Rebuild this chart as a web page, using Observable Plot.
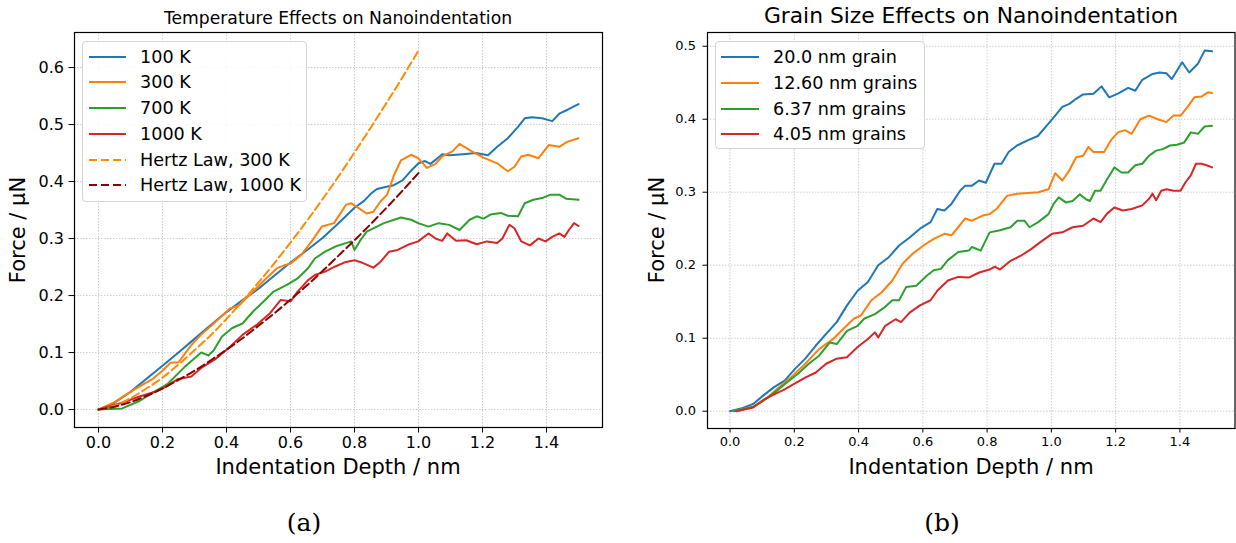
<!DOCTYPE html>
<html>
<head>
<meta charset="utf-8">
<script src="https://cdn.jsdelivr.net/npm/d3@7"></script>
<script src="https://cdn.jsdelivr.net/npm/@observablehq/plot@0.6"></script>
<style>
  html, body { margin: 0; padding: 0; background: #fff; }
  #root { position: relative; width: 1236px; height: 543px; font-family: "DejaVu Sans", sans-serif; color: #000; overflow: hidden; }
  .abs { position: absolute; white-space: nowrap; }
  .plotwrap { position: absolute; top: 0; }
  .legend { position: absolute; border: 1px solid #d4d4d4; border-radius: 4px; background: rgba(255,255,255,0.85); box-sizing: border-box; }
</style>
</head>
<body>
<div id="root"></div>
<script>
// ---------------- Data: (a) temperature effects ----------------
const xTicks = [0.0, 0.2, 0.4, 0.6, 0.8, 1.0, 1.2, 1.4];
const yTicksA = [0.0, 0.1, 0.2, 0.3, 0.4, 0.5, 0.6];
const yTicksB = [0.0, 0.1, 0.2, 0.3, 0.4, 0.5];

const seriesA = ["100 K", "300 K", "700 K", "1000 K", "Hertz Law, 300 K", "Hertz Law, 1000 K"];
const colorsA = ["#1f77b4", "#ff7f0e", "#2ca02c", "#d62728", "#ff8c00", "#8b0000"];
const dashedA = [false, false, false, false, true, true];

const temp100K = [[0,0],[0.05,0.012],[0.1,0.031],[0.15,0.054],[0.2,0.077],[0.25,0.1],[0.3,0.124],[0.35,0.148],[0.4,0.171],[0.45,0.192],[0.5,0.212],[0.55,0.235],[0.6,0.258],[0.65,0.279],[0.7,0.301],[0.75,0.327],[0.8,0.354],[0.83,0.366],[0.85,0.378],[0.87,0.387],[0.9,0.391],[0.92,0.393],[0.95,0.402],[0.975,0.418],[1.0,0.432],[1.02,0.436],[1.037,0.431],[1.053,0.438],[1.074,0.448],[1.096,0.446],[1.139,0.448],[1.18,0.45],[1.217,0.446],[1.246,0.461],[1.279,0.476],[1.311,0.496],[1.332,0.511],[1.354,0.513],[1.386,0.511],[1.418,0.506],[1.44,0.519],[1.466,0.526],[1.5,0.536]];
const temp300K = [[0,0],[0.05,0.013],[0.1,0.031],[0.13,0.041],[0.17,0.054],[0.2,0.068],[0.225,0.082],[0.25,0.083],[0.27,0.098],[0.29,0.113],[0.32,0.131],[0.36,0.151],[0.41,0.177],[0.44,0.183],[0.47,0.2],[0.515,0.225],[0.558,0.248],[0.58,0.253],[0.6,0.256],[0.633,0.271],[0.666,0.295],[0.698,0.321],[0.736,0.327],[0.773,0.359],[0.79,0.362],[0.806,0.356],[0.838,0.344],[0.859,0.347],[0.881,0.365],[0.902,0.377],[0.924,0.412],[0.945,0.437],[0.977,0.447],[0.999,0.441],[1.026,0.424],[1.053,0.431],[1.074,0.444],[1.106,0.453],[1.128,0.466],[1.16,0.455],[1.203,0.442],[1.246,0.432],[1.279,0.418],[1.3,0.426],[1.321,0.444],[1.343,0.447],[1.375,0.441],[1.407,0.464],[1.44,0.461],[1.466,0.47],[1.5,0.476]];
const temp700K = [[0,0],[0.074,0.002],[0.128,0.015],[0.171,0.03],[0.214,0.044],[0.268,0.074],[0.321,0.1],[0.343,0.095],[0.359,0.103],[0.386,0.128],[0.418,0.143],[0.45,0.151],[0.483,0.172],[0.515,0.189],[0.547,0.207],[0.59,0.219],[0.622,0.23],[0.655,0.248],[0.676,0.265],[0.708,0.277],[0.74,0.286],[0.773,0.292],[0.79,0.295],[0.8,0.28],[0.816,0.295],[0.838,0.312],[0.859,0.318],[0.892,0.327],[0.924,0.333],[0.945,0.337],[0.977,0.333],[0.999,0.327],[1.031,0.321],[1.063,0.327],[1.096,0.324],[1.128,0.315],[1.16,0.333],[1.182,0.339],[1.203,0.335],[1.225,0.342],[1.257,0.345],[1.279,0.34],[1.311,0.339],[1.332,0.362],[1.359,0.368],[1.386,0.371],[1.413,0.377],[1.44,0.377],[1.461,0.37],[1.5,0.368]];
const temp1000K = [[0,0],[0.074,0.012],[0.128,0.023],[0.182,0.032],[0.214,0.041],[0.246,0.053],[0.29,0.058],[0.321,0.073],[0.364,0.088],[0.407,0.108],[0.45,0.131],[0.493,0.148],[0.536,0.169],[0.569,0.192],[0.601,0.19],[0.622,0.207],[0.655,0.227],[0.676,0.236],[0.708,0.242],[0.74,0.251],[0.773,0.259],[0.8,0.262],[0.827,0.257],[0.859,0.249],[0.881,0.259],[0.908,0.277],[0.935,0.28],[0.967,0.289],[0.999,0.295],[1.031,0.309],[1.053,0.3],[1.074,0.296],[1.09,0.309],[1.117,0.296],[1.149,0.297],[1.182,0.29],[1.214,0.295],[1.246,0.292],[1.262,0.3],[1.284,0.324],[1.3,0.318],[1.321,0.295],[1.348,0.288],[1.375,0.3],[1.397,0.295],[1.418,0.303],[1.44,0.309],[1.456,0.303],[1.47,0.315],[1.486,0.327],[1.5,0.322]];
const hertzX = [0,0.05,0.1,0.15,0.2,0.25,0.3,0.35,0.4,0.45,0.5,0.55,0.6,0.65,0.7,0.75,0.8,0.85,0.9,0.95,1.0];
const hertz300K = [0,0.007,0.020,0.037,0.056,0.079,0.104,0.130,0.159,0.190,0.223,0.257,0.293,0.330,0.369,0.409,0.451,0.494,0.538,0.583,0.630];
const hertz1000K = [0,0.005,0.013,0.024,0.037,0.052,0.068,0.086,0.105,0.125,0.147,0.169,0.193,0.217,0.243,0.270,0.297,0.325,0.354,0.384,0.415];

// ---------------- Data: (b) grain size effects ----------------
const seriesB = ["20.0 nm grain", "12.60 nm grains", "6.37 nm grains", "4.05 nm grains"];
const colorsB = ["#1f77b4", "#ff7f0e", "#2ca02c", "#d62728"];

const grain20 = [[0,0],[0.04,0.0045],[0.072,0.01],[0.105,0.022],[0.137,0.033],[0.17,0.042],[0.202,0.058],[0.234,0.072],[0.267,0.09],[0.299,0.106],[0.332,0.122],[0.364,0.145],[0.397,0.165],[0.429,0.177],[0.461,0.2],[0.494,0.211],[0.526,0.227],[0.559,0.238],[0.591,0.25],[0.624,0.259],[0.645,0.277],[0.667,0.275],[0.689,0.284],[0.716,0.302],[0.732,0.309],[0.753,0.309],[0.775,0.316],[0.796,0.313],[0.823,0.339],[0.845,0.339],[0.867,0.355],[0.893,0.364],[0.926,0.371],[0.958,0.377],[0.991,0.394],[1.012,0.405],[1.034,0.417],[1.056,0.421],[1.077,0.428],[1.099,0.434],[1.131,0.435],[1.156,0.445],[1.18,0.43],[1.207,0.435],[1.239,0.443],[1.261,0.439],[1.283,0.454],[1.315,0.462],[1.337,0.464],[1.358,0.463],[1.375,0.455],[1.407,0.478],[1.429,0.464],[1.456,0.476],[1.477,0.494],[1.5,0.493]];
const grain1260 = [[0.013,0],[0.072,0.006],[0.105,0.0145],[0.148,0.031],[0.191,0.047],[0.234,0.065],[0.277,0.085],[0.321,0.099],[0.353,0.113],[0.386,0.127],[0.407,0.131],[0.44,0.152],[0.472,0.163],[0.505,0.179],[0.537,0.202],[0.569,0.216],[0.602,0.227],[0.634,0.236],[0.667,0.243],[0.689,0.241],[0.71,0.252],[0.732,0.264],[0.753,0.261],[0.786,0.268],[0.808,0.27],[0.829,0.277],[0.862,0.295],[0.894,0.298],[0.926,0.299],[0.959,0.3],[0.991,0.304],[1.012,0.326],[1.034,0.316],[1.056,0.33],[1.077,0.348],[1.099,0.35],[1.115,0.362],[1.131,0.355],[1.164,0.355],[1.185,0.371],[1.207,0.382],[1.229,0.385],[1.25,0.38],[1.277,0.4],[1.304,0.405],[1.331,0.4],[1.358,0.396],[1.38,0.405],[1.402,0.405],[1.424,0.417],[1.445,0.43],[1.467,0.431],[1.488,0.437],[1.5,0.436]];
const grain637 = [[0.013,0],[0.072,0.006],[0.126,0.021],[0.17,0.037],[0.213,0.052],[0.245,0.065],[0.277,0.076],[0.31,0.094],[0.332,0.092],[0.364,0.11],[0.397,0.117],[0.418,0.127],[0.451,0.133],[0.483,0.143],[0.505,0.152],[0.526,0.152],[0.548,0.17],[0.58,0.172],[0.613,0.186],[0.634,0.193],[0.656,0.195],[0.678,0.207],[0.71,0.218],[0.743,0.22],[0.753,0.225],[0.78,0.22],[0.808,0.245],[0.84,0.248],[0.873,0.252],[0.894,0.261],[0.916,0.261],[0.932,0.252],[0.959,0.259],[0.991,0.27],[1.007,0.284],[1.023,0.293],[1.045,0.286],[1.066,0.288],[1.088,0.297],[1.109,0.29],[1.12,0.288],[1.136,0.302],[1.153,0.302],[1.174,0.318],[1.196,0.334],[1.218,0.327],[1.239,0.327],[1.261,0.337],[1.283,0.339],[1.304,0.35],[1.326,0.357],[1.347,0.359],[1.369,0.364],[1.391,0.365],[1.413,0.368],[1.434,0.382],[1.456,0.38],[1.477,0.39],[1.5,0.391]];
const grain405 = [[0.02,0],[0.072,0.005],[0.105,0.016],[0.137,0.023],[0.17,0.03],[0.202,0.038],[0.234,0.046],[0.267,0.053],[0.299,0.065],[0.332,0.072],[0.364,0.074],[0.397,0.088],[0.429,0.099],[0.451,0.108],[0.461,0.101],[0.483,0.117],[0.515,0.126],[0.532,0.122],[0.559,0.135],[0.591,0.145],[0.624,0.152],[0.645,0.165],[0.678,0.179],[0.71,0.184],[0.743,0.183],[0.775,0.19],[0.808,0.194],[0.824,0.198],[0.84,0.194],[0.873,0.206],[0.905,0.213],[0.937,0.222],[0.97,0.233],[1.002,0.243],[1.034,0.245],[1.066,0.252],[1.099,0.254],[1.131,0.264],[1.153,0.259],[1.174,0.271],[1.196,0.279],[1.223,0.275],[1.25,0.277],[1.283,0.282],[1.304,0.291],[1.315,0.298],[1.326,0.289],[1.342,0.302],[1.358,0.304],[1.38,0.302],[1.402,0.302],[1.418,0.314],[1.434,0.323],[1.45,0.339],[1.467,0.339],[1.483,0.337],[1.5,0.334]];

// ---------------- Build ----------------
const root = document.getElementById("root");
const fmt = d => d.toFixed(1);
const gridStyle = {stroke: "#b0b0b0", strokeOpacity: 0.7, strokeDasharray: "1.5,1.5", strokeWidth: 0.9};

function addText(txt, x, y, opts = {}) {
  const el = document.createElement("div");
  el.className = "abs";
  el.textContent = txt;
  el.style.left = x + "px";
  el.style.top = y + "px";
  el.style.fontSize = (opts.size || 16) + "px";
  if (opts.family) el.style.fontFamily = opts.family;
  el.style.transform = "translate(-50%, -50%)" + (opts.rotate ? " rotate(-90deg)" : "");
  root.appendChild(el);
}

function addLegend(box, items, colors, dashed, lineX0, lineX1, textX, rowY0, step, size) {
  const lg = document.createElement("div");
  lg.className = "legend";
  lg.style.left = box[0] + "px"; lg.style.top = box[1] + "px";
  lg.style.width = (box[2] - box[0]) + "px"; lg.style.height = (box[3] - box[1]) + "px";
  root.appendChild(lg);
  items.forEach((name, i) => {
    const y = rowY0 + i * step;
    const svg = document.createElementNS("http://www.w3.org/2000/svg", "svg");
    svg.setAttribute("width", lineX1 - lineX0 + 2);
    svg.setAttribute("height", 6);
    svg.style.position = "absolute";
    svg.style.left = (lineX0 - 1) + "px";
    svg.style.top = (y - 3) + "px";
    const ln = document.createElementNS("http://www.w3.org/2000/svg", "line");
    ln.setAttribute("x1", 1); ln.setAttribute("x2", lineX1 - lineX0 + 1);
    ln.setAttribute("y1", 3); ln.setAttribute("y2", 3);
    ln.setAttribute("stroke", colors[i]); ln.setAttribute("stroke-width", 2);
    if (dashed && dashed[i]) ln.setAttribute("stroke-dasharray", "8,4");
    svg.appendChild(ln);
    root.appendChild(svg);
    const t = document.createElement("div");
    t.className = "abs";
    t.textContent = name;
    t.style.left = textX + "px";
    t.style.top = y + "px";
    t.style.fontSize = size + "px";
    t.style.transform = "translateY(-50%)";
    root.appendChild(t);
  });
}

function place(svg, left) {
  const w = document.createElement("div");
  w.className = "plotwrap";
  w.style.left = left + "px";
  w.appendChild(svg);
  root.appendChild(w);
}

// ----- Plot (a) -----
const lineA = (data, i) => Plot.line(data, {x: d => d[0], y: d => d[1], stroke: colorsA[i], strokeWidth: 2});
const hertzA = (vals, i) => Plot.line(hertzX, {x: d => d, y: (d, j) => vals[j], stroke: colorsA[i], strokeWidth: 2, strokeDasharray: "8,4", curve: "monotone-x"});

const plotA = Plot.plot({
  width: 620, height: 480,
  marginLeft: 74, marginRight: 18, marginTop: 32, marginBottom: 53,
  x: {domain: [-0.075, 1.575], axis: null},
  y: {domain: [-0.0315, 0.6615], axis: null},
  style: {fontFamily: "DejaVu Sans", color: "#000", background: "transparent", overflow: "visible"},
  marks: [
    Plot.gridX(xTicks, gridStyle),
    Plot.gridY(yTicksA, gridStyle),
    Plot.axisX({ticks: xTicks, tickFormat: fmt, tickSize: 5.5, tickPadding: 4, fontSize: 16, label: null}),
    Plot.axisY({ticks: yTicksA, tickFormat: fmt, tickSize: 5.5, tickPadding: 5, fontSize: 16, label: null}),
    lineA(temp100K, 0),
    lineA(temp300K, 1),
    lineA(temp700K, 2),
    lineA(temp1000K, 3),
    hertzA(hertz300K, 4),
    hertzA(hertz1000K, 5),
    Plot.frame({stroke: "#000", strokeWidth: 1.2})
  ]
});
place(plotA, 0);

// ----- Plot (b) -----
const lineB = (data, i) => Plot.line(data, {x: d => d[0], y: d => d[1], stroke: colorsB[i], strokeWidth: 2});
const plotB = Plot.plot({
  width: 606, height: 480,
  marginLeft: 77, marginRight: 1.5, marginTop: 32, marginBottom: 52,
  x: {domain: [-0.0702, 1.5715], axis: null},
  y: {domain: [-0.0237, 0.5188], axis: null},
  style: {fontFamily: "DejaVu Sans", color: "#000", background: "transparent", overflow: "visible"},
  marks: [
    Plot.gridX(xTicks, gridStyle),
    Plot.gridY(yTicksB, gridStyle),
    Plot.axisX({ticks: xTicks, tickFormat: fmt, tickSize: 4.5, tickPadding: 4, fontSize: 13, label: null}),
    Plot.axisY({ticks: yTicksB, tickFormat: fmt, tickSize: 4.5, tickPadding: 7, fontSize: 13, label: null}),
    lineB(grain20, 0),
    lineB(grain1260, 1),
    lineB(grain637, 2),
    lineB(grain405, 3),
    Plot.frame({stroke: "#000", strokeWidth: 1.2})
  ]
});
place(plotB, 630);

// ----- Titles, labels, captions -----
addText("Temperature Effects on Nanoindentation", 338, 18, {size: 17.2});
addText("Grain Size Effects on Nanoindentation", 971, 15, {size: 21.8});
addText("Indentation Depth / nm", 338, 467, {size: 21});
addText("Indentation Depth / nm", 971, 467, {size: 21});
addText("Force / μN", 18, 230, {size: 21, rotate: true});
addText("Force / μN", 657, 230, {size: 21, rotate: true});
addText("(a)", 304, 522, {size: 25, family: "'DejaVu Serif', serif"});
addText("(b)", 942, 522, {size: 25, family: "'DejaVu Serif', serif"});

// ----- Legends -----
addLegend([82, 41, 307, 202], seriesA, colorsA, dashedA, 89, 126, 140, 56.7, 25.7, 17.6);
addLegend([715, 41, 925, 149], seriesB, colorsB, null, 721, 759, 773, 56.7, 25.9, 17.6);
</script>
</body>
</html>
